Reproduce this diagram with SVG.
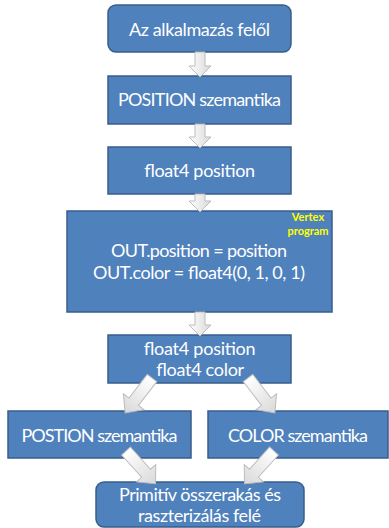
<svg xmlns="http://www.w3.org/2000/svg" xmlns:xlink="http://www.w3.org/1999/xlink" width="389" height="528" viewBox="0 0 389 528">
<style>
.box{fill:#4f81bd;stroke:#385d8a;stroke-width:1.5}
.t{font-family:Lato,"Liberation Sans",Arial,sans-serif;font-size:18px;fill:#ffffff;text-anchor:middle}
.y{font-family:Lato,"Liberation Sans",Arial,sans-serif;font-size:11px;font-weight:bold;fill:#ffff00;text-anchor:middle}
.arr{fill:url(#g);stroke:#bcbcbc;stroke-width:1}
</style>
<defs>
<linearGradient id="g" x1="0" y1="0" x2="1" y2="0">
<stop offset="0" stop-color="#ffffff"/>
<stop offset="1" stop-color="#d9d9d9"/>
</linearGradient>
<path id="da" d="M0,-6 H30 V-13 L44,0 L30,13 V6 H0 Z"/>
</defs>
<rect width="389" height="528" fill="#ffffff"/>
<g id="n1"><rect class="box" x="108" y="5" width="183" height="47" rx="8"/><text class="t" x="199.5" y="36" textLength="141">Az alkalmazás felől</text></g>
<g id="n2"><rect class="box" x="108" y="76" width="183" height="48"/><text class="t" x="199.5" y="106" textLength="163">POSITION szemantika</text></g>
<g id="n3"><rect class="box" x="108" y="147" width="183" height="47"/><text class="t" x="199.5" y="177" textLength="111">float4 position</text></g>
<g id="n4"><rect class="box" x="67" y="211" width="265" height="101"/><text class="t" x="199" y="257" textLength="176">OUT.position = position</text><text class="t" x="199" y="279" textLength="212">OUT.color = float4(0, 1, 0, 1)</text><text class="y" x="308" y="221">Vertex</text><text class="y" x="308" y="235">program</text></g>
<g id="n5"><rect class="box" x="108" y="335" width="183" height="48"/><text class="t" x="199.5" y="355" textLength="112">float4 position</text><text class="t" x="200" y="376" textLength="88">float4 color</text></g>
<g id="n6"><rect class="box" x="8" y="411" width="183" height="47"/><text class="t" x="99.5" y="442" textLength="156">POSTION szemantika</text></g>
<g id="n7"><rect class="box" x="208" y="411" width="180" height="47"/><text class="t" x="298" y="442" textLength="140">COLOR szemantika</text></g>
<g id="n8"><rect class="box" x="96" y="482" width="208" height="45" rx="8"/><text class="t" x="200" y="501" textLength="162">Primitív összerakás és</text><text class="t" x="199.5" y="522" textLength="123">raszterizálás felé</text></g>
<g id="connectors">
<path class="arr" d="M195,52 V66 H189 L200,77 L211,66 H205 V52 Z"/>
<path class="arr" d="M195,124 V137 H189 L200,148 L211,137 H205 V124 Z"/>
<path class="arr" d="M195,194 V201 H189 L200,212 L211,201 H205 V194 Z"/>
<path class="arr" d="M195,312 V325 H189 L200,336 L211,325 H205 V312 Z"/>
<use class="arr" xlink:href="#da" transform="translate(152,378) rotate(127.6)"/>
<use class="arr" xlink:href="#da" transform="translate(248,378) rotate(52.4)"/>
<use class="arr" xlink:href="#da" transform="translate(126,451) rotate(47.9)"/>
<use class="arr" xlink:href="#da" transform="translate(274,451) rotate(132.1)"/>
</g>
</svg>
